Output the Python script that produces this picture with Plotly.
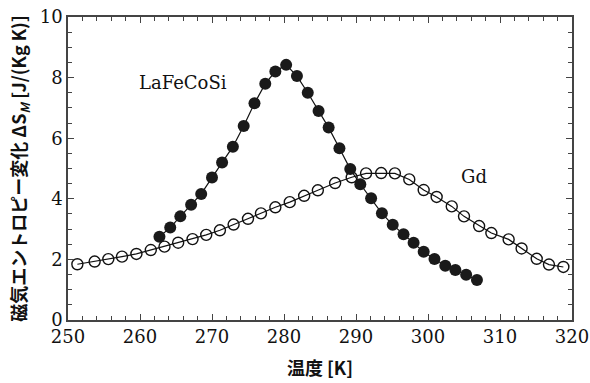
import plotly.graph_objects as go

# LaFeCoSi (filled circles)
la_T = [262.7, 264.2, 265.6, 267.1, 268.5, 270.0, 271.4, 272.9, 274.4, 275.9,
        277.4, 278.8, 280.3, 281.8, 283.3, 284.8, 286.2, 287.7, 289.2, 290.6,
        292.1, 293.6, 295.1, 296.6, 298.0, 299.4, 300.9, 302.4, 303.8, 305.3, 306.8]
la_S = [2.75, 3.05, 3.42, 3.80, 4.16, 4.70, 5.20, 5.72, 6.40, 7.15,
        7.80, 8.20, 8.42, 8.05, 7.50, 6.90, 6.35, 5.67, 4.98, 4.48,
        4.02, 3.52, 3.14, 2.83, 2.55, 2.25, 2.01, 1.79, 1.65, 1.49, 1.32]

# Gd (open circles)
gd_T = [251.3, 253.7, 255.6, 257.5, 259.5, 261.5, 263.4, 265.3, 267.3, 269.2,
        271.1, 273.0, 275.0, 276.8, 278.8, 280.8, 282.8, 284.7, 287.1, 289.4,
        291.4, 293.5, 295.4, 297.4, 299.4, 301.2, 303.3, 305.0, 307.1, 308.8,
        311.2, 313.0, 315.1, 316.8, 318.8]
gd_S = [1.84, 1.93, 2.01, 2.09, 2.18, 2.31, 2.42, 2.55, 2.67, 2.81,
        2.96, 3.15, 3.34, 3.52, 3.72, 3.89, 4.10, 4.28, 4.52, 4.71,
        4.84, 4.85, 4.84, 4.64, 4.29, 4.06, 3.75, 3.42, 3.10, 2.87,
        2.66, 2.36, 2.02, 1.83, 1.75]

x_ticks = [250, 260, 270, 280, 290, 300, 310, 320]
y_ticks = [0, 2, 4, 6, 8, 10]

num_font = "DejaVu Serif"
jp_font = "Noto Sans CJK JP"

fig = go.Figure()
fig.add_trace(go.Scatter(
    x=gd_T, y=gd_S, mode="lines+markers",
    line=dict(color="#111", width=1.2),
    marker=dict(symbol="circle-open", size=11, color="#111", line=dict(width=1.4)),
    showlegend=False))
fig.add_trace(go.Scatter(
    x=la_T, y=la_S, mode="lines+markers",
    line=dict(color="#111", width=1.2),
    marker=dict(symbol="circle", size=12, color="#1a1a1a"),
    showlegend=False))

axis_common = dict(
    showline=True, linecolor="#444", linewidth=1.5, mirror="ticks",
    ticks="inside", ticklen=6, tickwidth=1.2, tickcolor="#444",
    showgrid=False, zeroline=False, automargin=False,
    tickfont=dict(family=num_font, size=18, color="#111"),
)

fig.update_xaxes(
    range=[250, 320], tickvals=x_ticks,
    minor=dict(dtick=2, ticks="inside", ticklen=4, tickcolor="#444", tickwidth=1),
    title=dict(text="温度 [K]", font=dict(family=jp_font, size=18, color="#111", weight="bold"), standoff=16),
    **axis_common)
fig.update_yaxes(
    range=[0, 10], tickvals=y_ticks,
    minor=dict(dtick=0.5, ticks="inside", ticklen=4, tickcolor="#444", tickwidth=1),
    title=dict(text="磁気エントロピー変化 ΔS<sub><i>M</i></sub> [J/(Kg K)]",
               font=dict(family=jp_font, size=18, color="#111", weight="bold"), standoff=8),
    **axis_common)

fig.add_annotation(x=266.0, y=7.85, text="LaFeCoSi", showarrow=False,
                   font=dict(family=num_font, size=18, color="#111"))
fig.add_annotation(x=306.4, y=4.75, text="Gd", showarrow=False,
                   font=dict(family=num_font, size=18, color="#111"))

fig.update_layout(
    width=590, height=383,
    margin=dict(l=68, r=18, t=17, b=63),
    plot_bgcolor="white", paper_bgcolor="white",
)

fig.write_html("out.html")
